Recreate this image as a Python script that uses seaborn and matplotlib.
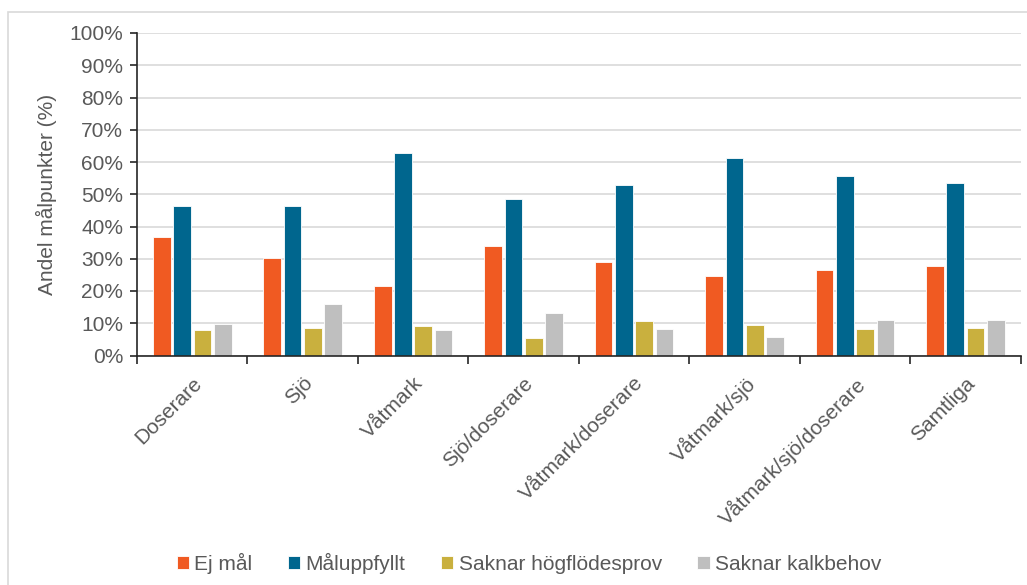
import numpy as np
import pandas as pd
import seaborn as sns
import matplotlib.pyplot as plt
from matplotlib.patches import Rectangle
from matplotlib.ticker import FuncFormatter, FixedLocator

categories = ["Doserare", "Sjö", "Våtmark", "Sjö/doserare", "Våtmark/doserare",
              "Våtmark/sjö", "Våtmark/sjö/doserare", "Samtliga"]
series = ["Ej mål", "Måluppfyllt", "Saknar högflödesprov", "Saknar kalkbehov"]

ej_mal = [36.6, 30.2, 21.4, 33.9, 28.9, 24.7, 26.6, 27.7]
maluppfyllt = [46.5, 46.3, 62.7, 48.4, 53.0, 61.2, 55.6, 53.4]
saknar_hogflode = [7.8, 8.4, 9.0, 5.3, 10.8, 9.5, 8.1, 8.6]
saknar_kalk = [9.9, 16.0, 7.8, 13.3, 8.1, 5.7, 10.9, 11.1]

colors = ["#F05A22", "#00668E", "#C9B03E", "#BFBFBF"]

rows = []
for name, vals in zip(series, [ej_mal, maluppfyllt, saknar_hogflode, saknar_kalk]):
    for cat, v in zip(categories, vals):
        rows.append({"kategori": cat, "serie": name, "andel": v})
df = pd.DataFrame(rows)

sns.set_style("white")
plt.rcParams["font.family"] = ["Liberation Sans", "DejaVu Sans"]
text_col = "#595959"
fs = 15

fig = plt.figure(figsize=(10.27, 5.85), dpi=100)
ax = fig.add_axes([137 / 1027, 1 - 355.5 / 585, (1020.7 - 137) / 1027, (355.5 - 33) / 585])

sns.barplot(data=df, x="kategori", y="andel", hue="serie", order=categories,
            hue_order=series, palette=colors, width=0.735, gap=0.13,
            edgecolor="white", linewidth=0.6, saturation=1, ax=ax, legend=True)

ax.set_ylim(0, 100)
ax.set_xlim(-0.5, len(categories) - 0.5)
ax.set_yticks(np.arange(0, 101, 10))
ax.yaxis.set_major_formatter(FuncFormatter(lambda v, p: f"{int(v)}%"))
ax.yaxis.grid(True, color="#D9D9D9", linewidth=1.2)
ax.set_axisbelow(True)

for s in ["top", "right"]:
    ax.spines[s].set_visible(False)
for s in ["left", "bottom"]:
    ax.spines[s].set_color("#262626")
    ax.spines[s].set_linewidth(1.2)

ax.tick_params(axis="y", which="major", length=5, width=1.2, color="#262626",
               direction="out", labelsize=fs, labelcolor=text_col, pad=5, left=True)
ax.xaxis.set_minor_locator(FixedLocator(np.arange(-0.5, len(categories), 1.0)))
ax.tick_params(axis="x", which="minor", length=6, width=1.2, color="#262626", direction="out", bottom=True)
ax.tick_params(axis="x", which="major", length=0, labelsize=fs, labelcolor=text_col, pad=13)
for lbl in ax.get_xticklabels():
    lbl.set_rotation(45)
    lbl.set_ha("right")
    lbl.set_rotation_mode("anchor")

ax.set_xlabel("")
ax.set_ylabel("Andel målpunkter (%)", fontsize=fs, color=text_col, labelpad=9)

handles, labels = ax.get_legend_handles_labels()
ax.get_legend().remove()
fig.legend(handles, labels, loc="center", bbox_to_anchor=(0.515, 1 - 563 / 585), ncol=4,
           frameon=False, fontsize=fs, labelcolor=text_col, handlelength=0.6,
           handleheight=0.6, handletextpad=0.25, columnspacing=1.7)

fig.patches.append(Rectangle((8 / 1027, -0.02), 1.0, 0.02 + 1 - 12 / 585, transform=fig.transFigure,
                             fill=False, edgecolor="#D9D9D9", linewidth=1.2))

fig.savefig("out.png", dpi=100)
